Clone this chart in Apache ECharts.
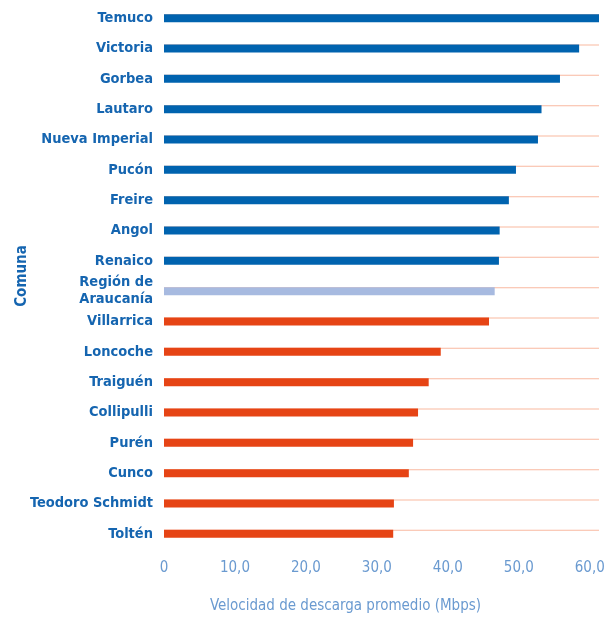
<!DOCTYPE html>
<html>
<head>
<meta charset="utf-8">
<script src="https://cdn.jsdelivr.net/npm/echarts@6/dist/echarts.min.js"></script>
<style>
  html, body { margin: 0; padding: 0; background: #fff; }
  #chart { width: 615px; height: 618px; }
</style>
</head>
<body>
<div id="chart"></div>
<script>
// Average download speed by commune (Mbps), top to bottom
const comunas = [
  'Temuco', 'Victoria', 'Gorbea', 'Lautaro', 'Nueva Imperial', 'Pucón',
  'Freire', 'Angol', 'Renaico', 'Región de Araucanía', 'Villarrica',
  'Loncoche', 'Traiguén', 'Collipulli', 'Purén', 'Cunco',
  'Teodoro Schmidt', 'Toltén'
];
const velocidad = [
  61.3, 58.5, 55.8, 53.2, 52.7, 49.6,
  48.6, 47.3, 47.2, 46.6, 45.8,
  39.0, 37.3, 35.8, 35.1, 34.5,
  32.4, 32.3
];
// Group of each row: above the regional value, the region itself, below it
const grupo = [
  'sup', 'sup', 'sup', 'sup', 'sup', 'sup',
  'sup', 'sup', 'sup', 'reg', 'inf',
  'inf', 'inf', 'inf', 'inf', 'inf',
  'inf', 'inf'
];
const ticks = [0, 10, 20, 30, 40, 50, 60];

const colores = { sup: '#0063AF', reg: '#A7BAE0', inf: '#E64415' };
const maximo = Math.max(...velocidad);

const chart = echarts.init(document.getElementById('chart'), null, { renderer: 'canvas' });

const fuente = '"Liberation Sans Narrow", "DejaVu Sans Condensed", "Roboto", sans-serif';

chart.setOption({
  animation: false,
  grid: { left: 164, right: 16, top: 3, bottom: 69, containLabel: false, outerBoundsMode: 'none' },
  xAxis: {
    type: 'value',
    min: ticks[0],
    max: maximo,
    interval: 10,
    axisLine: { show: false },
    axisTick: { show: false },
    splitLine: { show: false },
    axisLabel: {
      showMaxLabel: false,
      margin: 12,
      color: '#6A9AD0',
      fontFamily: fuente,
      fontSize: 15,
      formatter: v => ticks.includes(v) ? (v === 0 ? '0' : v.toFixed(1).replace('.', ',')) : ''
    },
    name: 'Velocidad de descarga promedio (Mbps)',
    nameLocation: 'middle',
    nameGap: 50,
    nameTextStyle: {
      color: '#6A9AD0',
      fontFamily: fuente,
      fontSize: 15,
      padding: [0, 72, 0, 0]
    }
  },
  yAxis: {
    type: 'category',
    inverse: true,
    data: comunas,
    axisLine: { show: false },
    axisTick: { show: false },
    axisLabel: {
      margin: 11,
      color: '#1565B0',
      fontFamily: fuente,
      fontWeight: 'bold',
      fontSize: 14.5,
      lineHeight: 17,
      formatter: v => v === 'Región de Araucanía' ? 'Región de\nAraucanía' : v
    },
    name: 'Comuna',
    nameLocation: 'middle',
    nameGap: 134,
    nameMoveOverlap: false,
    nameTextStyle: {
      color: '#1565B0',
      fontFamily: fuente,
      fontWeight: 'bold',
      fontSize: 15
    }
  },
  series: [
    {
      // thin guide line running across each row
      type: 'bar',
      data: comunas.map(() => maximo),
      barWidth: 1,
      barGap: '-100%',
      itemStyle: { color: '#F9B9A0' },
      silent: true,
      z: 1
    },
    {
      type: 'bar',
      data: velocidad.map((v, i) => ({ value: v, itemStyle: { color: colores[grupo[i]] } })),
      barWidth: 8,
      z: 2
    }
  ]
});
</script>
</body>
</html>
